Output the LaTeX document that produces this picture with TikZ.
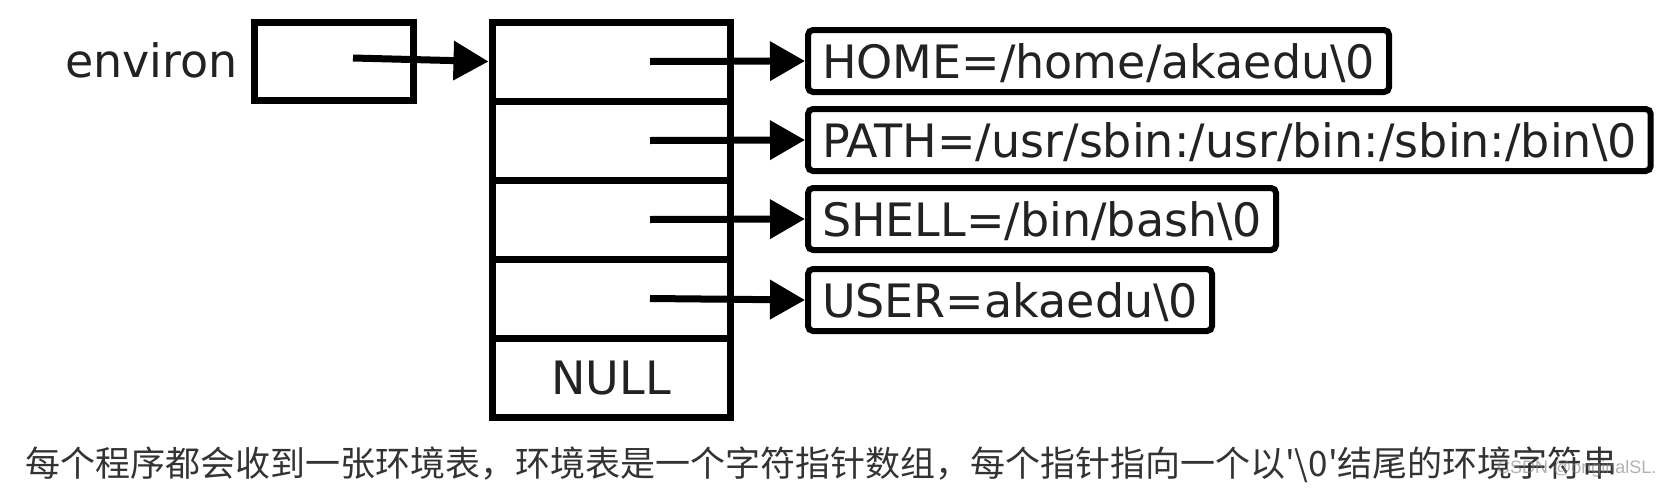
\documentclass[tikz,border=0pt]{standalone}
\usepackage{fontspec}
\setmainfont{DejaVu Sans}
\newfontfamily\cjk{Noto Sans CJK SC}
\newfontfamily\wmfont{Liberation Sans}
\usetikzlibrary{arrows.meta}
\definecolor{txt}{HTML}{222222}
\definecolor{captxt}{HTML}{333333}
\begin{document}
\begin{tikzpicture}[x=1pt,y=-1pt,
  dia/.style={font=\fontsize{46}{50}\selectfont, text=txt},
  cell/.style={draw, line width=7pt, minimum width=238pt, minimum height=79pt, inner sep=0pt, dia, text height=34pt, text depth=0pt},
  envbox/.style={draw, line width=7pt, minimum width=159pt, minimum height=78pt, inner sep=0pt},
  strbox/.style={dia, draw, line width=6pt, rounded corners=5pt, minimum height=62pt, text height=34pt, text depth=0pt, inner xsep=14pt, inner ysep=0pt, anchor=west},
  ptr/.style={line width=7pt, -{Triangle[length=35pt,width=38pt]}}
]
\useasboundingbox (0,0) rectangle (1671,488);
\fill[white] (0,0) rectangle (1671,488);

% environ
\node[dia, anchor=base west, inner sep=0pt] (envlabel) at (65,77) {environ};
\node[envbox] (env) at (333.5,61) {};
\coordinate (e0) at (353,58);

% array of pointers
\node[cell] (c1) at (611,61.5) {};
\node[cell] (c2) at (611,140.5) {};
\node[cell] (c3) at (611,219.5) {};
\node[cell] (c4) at (611,298.5) {};
\node[cell] (c5) at (611,377.5) {NULL};

% strings
\node[strbox] (s1) at (805,61) {HOME=/home/akaedu\textbackslash0};
\node[strbox] (s2) at (805,140) {PATH=/usr/sbin:/usr/bin:/sbin:/bin\textbackslash0};
\node[strbox] (s3) at (805,219) {SHELL=/bin/bash\textbackslash0};
\node[strbox] (s4) at (805,300) {USER=akaedu\textbackslash0};

% pointers
\draw[ptr] (e0) -- (c1.west);
\draw[ptr] ([xshift=39pt]c1.center) -- (s1.west);
\draw[ptr] ([xshift=39pt]c2.center) -- (s2.west);
\draw[ptr] ([xshift=39pt]c3.center) -- (s3.west);
\draw[ptr] ([xshift=39pt]c4.center) -- (s4.west);

% caption
\node[anchor=base west, inner sep=0pt, font=\cjk\fontsize{35}{40}\selectfont, text=captxt] (caption) at (25,476)
  {每个程序都会收到一张环境表，环境表是一个字符指针数组，每个指针指向一个以{\char39}\textbackslash0{\char39}结尾的环境字符串};
\node[anchor=base west, inner sep=0pt, font=\wmfont\fontsize{18}{20}\selectfont, text=gray, opacity=0.6] (wm) at (1497,473) {CSDN @originalSL.};
\end{tikzpicture}
\end{document}
